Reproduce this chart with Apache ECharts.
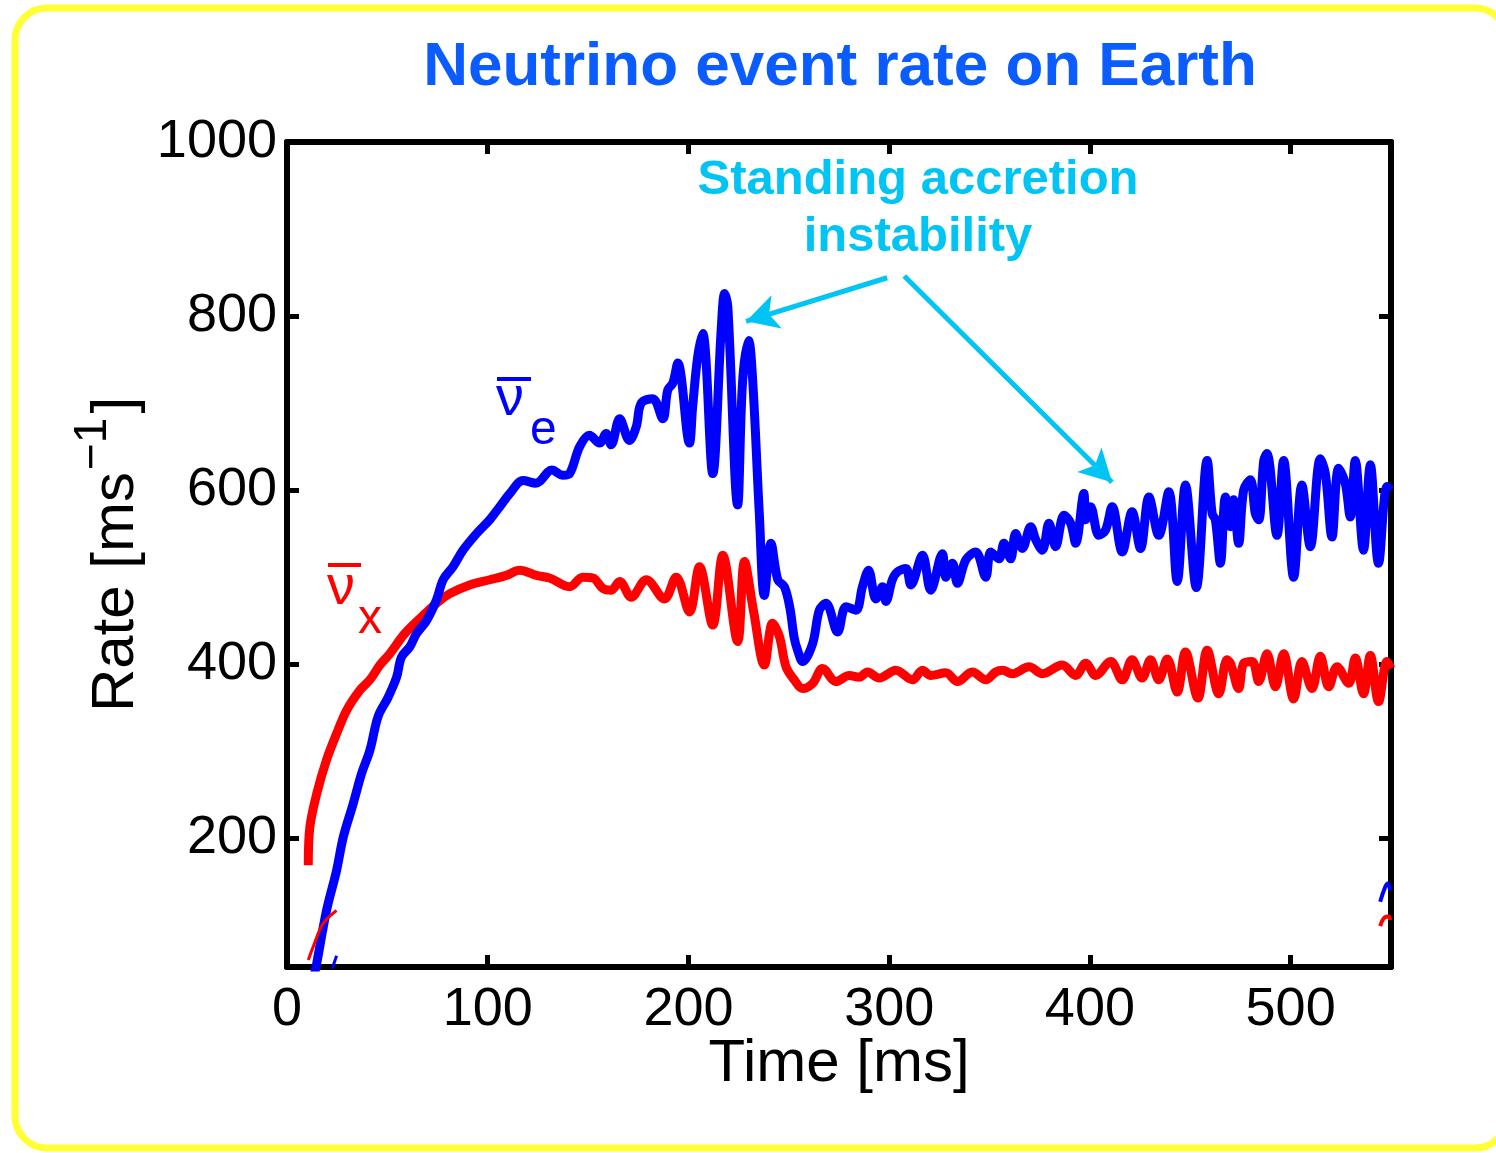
<!DOCTYPE html>
<html>
<head>
<meta charset="utf-8">
<title>Neutrino event rate on Earth</title>
<script src="https://cdn.jsdelivr.net/npm/echarts@6/dist/echarts.min.js"></script>
<style>
  html, body { margin: 0; padding: 0; background: #fff; }
  #chart { width: 1496px; height: 1153px; }
</style>
</head>
<body>
<div id="chart"></div>
<script>
// tick positions
const xTicks = [0, 100, 200, 300, 400, 500];
const xInnerTicks = [100, 200, 300, 400, 500];
const yTicks = [200, 400, 600, 800, 1000];
const yInnerTicks = [200, 400, 600, 800];

// anti-nu_e rate (blue)
const blueTime = [13.8, 14.8, 19.7, 24.7, 28, 33, 37.1, 41.3, 45.4, 50.4, 54.6, 57, 61.2, 64.5, 69.5, 74.5, 77.8, 82.7, 87.7, 94.4, 101,
  106, 111, 117.6, 124, 132, 137.5, 140.8, 145.8, 150.7, 155.7, 159, 161.5, 165.7, 170.6, 174, 176.5, 182.2, 187.2, 189.7, 192.2,
  194.7, 200.5, 202.1, 204.6, 207.1, 212.1, 216.3, 218, 219.6, 224.5, 227, 230, 232, 235.3, 237.8, 241.1, 244.5, 247.8, 250.5, 252.7,
  254.5, 256.9, 261.9, 265.2, 268.5, 274.3, 278.5, 283.4, 286.7, 289.7, 293.4, 296.7, 298.4, 301.6, 304.1, 308.3, 310.8, 316.6, 320.7, 326.5,
  328.2, 331.5, 334, 338.2, 343.1, 348.1, 350.6, 354.7, 357.2, 360.5, 363, 366.3, 370.5, 373, 376.3, 379.6, 382.9, 387.1, 390.4, 392.9,
  397, 397.9, 400.3, 404.5, 407.8, 411.1, 416.1, 421, 425.2, 429.4, 434.3, 439.3, 443.5, 447.6, 453, 458.4, 460.9, 462.5, 465, 467.5,
  470, 471.6, 474.1, 476.6, 479.9, 482.4, 484.1, 486.6, 488.2, 493.2, 496.5, 501.5, 505.6, 509.8, 514.8, 517.3, 520.6, 523.9, 527.2, 529.7,
  532.2, 536.3, 539.7, 543.8, 548, 550];
const blueRate = [45, 56, 117, 163, 201, 240, 274, 301, 340, 362, 385, 408, 420, 435, 450, 474, 497, 512, 531, 550, 566,
  581, 596, 611, 608, 623, 617, 619, 650, 663, 654, 665, 652, 682, 657, 673, 700, 705, 682, 715, 723,
  746, 654, 696, 753, 780, 619, 784, 826, 811, 583, 726, 772, 726, 573, 479, 539, 497, 489, 465, 430,
  415, 403, 424, 462, 470, 437, 466, 462, 489, 508, 475, 489, 472, 497, 506, 510, 491, 525, 485, 527,
  500, 516, 493, 520, 529, 500, 529, 521, 539, 521, 550, 533, 558, 543, 531, 562, 535, 571, 562, 539,
  596, 566, 581, 548, 554, 581, 529, 575, 533, 592, 548, 598, 495, 606, 488, 634, 573, 566, 516, 592,
  558, 589, 539, 600, 612, 573, 566, 634, 642, 548, 634, 500, 606, 535, 636, 619, 546, 625, 608, 569,
  634, 531, 629, 516, 604, 600];

// anti-nu_x rate (red)
const redTime = [10.6, 11.4, 14.8, 19.7, 24.7, 29.7, 36.3, 41.3, 46.3, 51.2, 57.9, 62.8, 67.8, 74.5, 81.1, 91, 101, 109.3, 115.9, 124.2,
  130.8, 140.8, 147.4, 152.4, 157.4, 161.5, 165.7, 171.5, 179, 188, 193.9, 200.5, 205.5, 212.1, 217.1, 224.5, 227.9, 232.5, 237.8, 241.9, 245.3,
  248.6, 252.7, 256.9, 261.9, 266.8, 273.5, 280.1, 285.1, 289.2, 295, 303.3, 311.6, 316.6, 320.7, 328.2, 334, 341.4, 348.1, 353.1, 356.4,
  361.3, 369.7, 376.3, 386.2, 392.9, 397.9, 402.9, 410.3, 416.1, 421, 426, 430.2, 434.3, 438.5, 443.5, 447.6, 453.8, 458.4, 464.2, 468.3,
  470, 474.1, 476.6, 480.8, 484.1, 488.2, 492.4, 496.5, 501.5, 505.6, 510.6, 514.8, 519, 523.1, 528.9, 532.2, 536.3, 539.7, 543.8, 548, 550];
const redRate = [169, 213, 251, 290, 320, 347, 370, 382, 399, 412, 433, 445, 456, 470, 481, 491, 497, 502, 508, 502,
  499, 489, 500, 499, 487, 485, 495, 477, 497, 475, 500, 460, 512, 445, 525, 426, 518, 460, 399, 447, 432,
  397, 382, 372, 378, 395, 380, 387, 385, 391, 384, 393, 382, 393, 387, 390, 380, 391, 382, 391, 393,
  389, 397, 389, 399, 387, 401, 387, 403, 382, 405, 384, 405, 382, 406, 368, 414, 361, 416, 366, 405,
  401, 372, 401, 403, 380, 412, 374, 412, 360, 403, 372, 409, 374, 397, 378, 407, 366, 410, 357, 403, 395];

// stray fragments at the edges of the frame
const redStubTime = [10.6, 13.5, 18, 24.7];
const redStubRate = [60, 78, 102, 117];
const blueStubTime = [22.2, 24.7];
const blueStubRate = [48, 65];
const blueHookTime = [544.6, 547.1, 548.4, 549.6];
const blueHookRate = [127, 144, 148, 140];
const redHookTime = [544.6, 546.8, 548.8, 549.6];
const redHookRate = [99, 109, 110, 106];

// annotation arrows: [time, rate] of tail and tip
const arrowTails = [[299, 844], [307.5, 846]];
const arrowTips = [[228.7, 794], [411, 609]];

const FONT = 'Liberation Sans, Arial, Helvetica, sans-serif';
const BLUE = '#0000ff';
const RED = '#ff0000';
const CYAN = '#00c4f4';

const zip = (xs, ys) => xs.map((x, i) => [x, ys[i]]);

const chart = echarts.init(document.getElementById('chart'));

const tickStyle = { inside: true, length: 12, lineStyle: { color: '#000', width: 5 } };
const lineAxis = { show: true, onZero: false, lineStyle: { color: '#000', width: 6 } };

chart.setOption({
  animation: false,
  backgroundColor: '#fff',
  grid: { left: 287, right: 105, top: 142, bottom: 186, containLabel: false },
  xAxis: [
    {
      type: 'value', min: 0, max: 550, position: 'bottom',
      axisLine: lineAxis,
      axisTick: { ...tickStyle, customValues: xInnerTicks },
      axisLabel: { customValues: xTicks, formatter: (v) => String(v), color: '#000', fontSize: 54, fontFamily: FONT, margin: 16 },
      splitLine: { show: false },
      name: 'Time [ms]', nameLocation: 'middle', nameGap: 67, nameMoveOverlap: false,
      nameTextStyle: { color: '#000', fontSize: 60, fontFamily: FONT },
    },
    {
      type: 'value', min: 0, max: 550, position: 'top',
      axisLine: lineAxis,
      axisTick: { ...tickStyle, customValues: xInnerTicks },
      axisLabel: { show: false },
      splitLine: { show: false },
    },
  ],
  yAxis: [
    {
      type: 'value', min: 52, max: 1000, position: 'left',
      axisLine: lineAxis,
      axisTick: { ...tickStyle, customValues: yInnerTicks },
      axisLabel: { customValues: yTicks, formatter: (v) => String(v), color: '#000', fontSize: 54, fontFamily: FONT, margin: 10 },
      splitLine: { show: false },
      name: '{b|Rate [ms}{sup|−1}{b|]}', nameLocation: 'middle', nameGap: 134, nameRotate: 90,
      nameTextStyle: {
        color: '#000', fontSize: 60, fontFamily: FONT,
        rich: {
          b: { fontSize: 60, fontFamily: FONT, color: '#000', lineHeight: 60, verticalAlign: 'bottom' },
          sup: { fontSize: 46, fontFamily: FONT, color: '#000', lineHeight: 46, padding: [0, 4, 30, 2], verticalAlign: 'bottom' },
        },
      },
    },
    {
      type: 'value', min: 52, max: 1000, position: 'right',
      axisLine: lineAxis,
      axisTick: { ...tickStyle, customValues: yInnerTicks },
      axisLabel: { show: false },
      splitLine: { show: false },
    },
  ],
  series: [
    {
      name: 'nu_e bar', type: 'line', data: zip(blueTime, blueRate),
      showSymbol: false, smooth: 0.35, clip: true, z: 3,
      lineStyle: { color: BLUE, width: 9, join: 'round' },
      markLine: {
        silent: true, symbol: ['none', 'arrow'], symbolSize: [26, 32],
        lineStyle: { color: CYAN, width: 5, type: 'solid' },
        label: { show: false },
        data: arrowTails.map((t, i) => [{ coord: t }, { coord: arrowTips[i] }]),
      },
    },
    {
      name: 'nu_x bar', type: 'line', data: zip(redTime, redRate),
      showSymbol: false, smooth: 0.35, clip: true, z: 2,
      lineStyle: { color: RED, width: 9, join: 'round' },
    },
    {
      type: 'line', data: zip(redStubTime, redStubRate), showSymbol: false, smooth: 0.4, clip: true,
      lineStyle: { color: RED, width: 3 },
    },
    {
      type: 'line', data: zip(blueStubTime, blueStubRate), showSymbol: false, clip: true,
      lineStyle: { color: BLUE, width: 3 },
    },
    {
      type: 'line', data: zip(blueHookTime, blueHookRate), showSymbol: false, smooth: 0.4, clip: true,
      lineStyle: { color: BLUE, width: 4 },
    },
    {
      type: 'line', data: zip(redHookTime, redHookRate), showSymbol: false, smooth: 0.4, clip: true,
      lineStyle: { color: RED, width: 4 },
    },
  ],
  graphic: [
    {
      type: 'rect', silent: true, z: -1,
      shape: { x: 15, y: 8, width: 1492, height: 1140, r: 32 },
      style: { fill: 'none', stroke: '#ffff33', lineWidth: 7 },
    },
    {
      type: 'text', x: 840, y: 68,
      style: { text: 'Neutrino event rate on Earth', fill: '#0a5cff', font: 'bold 62px ' + FONT, align: 'center', verticalAlign: 'middle' },
    },
    {
      type: 'text', x: 918, y: 209,
      style: { text: 'Standing accretion\ninstability', fill: CYAN, font: 'bold 49px ' + FONT, lineHeight: 57, align: 'center', verticalAlign: 'middle' },
    },
    // nu_e bar label
    { type: 'text', x: 496, y: 400, style: { text: 'ν', fill: BLUE, font: '56px ' + FONT, align: 'left', verticalAlign: 'middle' } },
    { type: 'rect', shape: { x: 497, y: 377, width: 34, height: 4 }, style: { fill: BLUE } },
    { type: 'text', x: 530, y: 431, style: { text: 'e', fill: BLUE, font: '48px ' + FONT, align: 'left', verticalAlign: 'middle' } },
    // nu_x bar label
    { type: 'text', x: 327, y: 589, style: { text: 'ν', fill: RED, font: '56px ' + FONT, align: 'left', verticalAlign: 'middle' } },
    { type: 'rect', shape: { x: 328, y: 563, width: 33, height: 4 }, style: { fill: RED } },
    { type: 'text', x: 358, y: 620, style: { text: 'x', fill: RED, font: '48px ' + FONT, align: 'left', verticalAlign: 'middle' } },
  ],
});
</script>
</body>
</html>
